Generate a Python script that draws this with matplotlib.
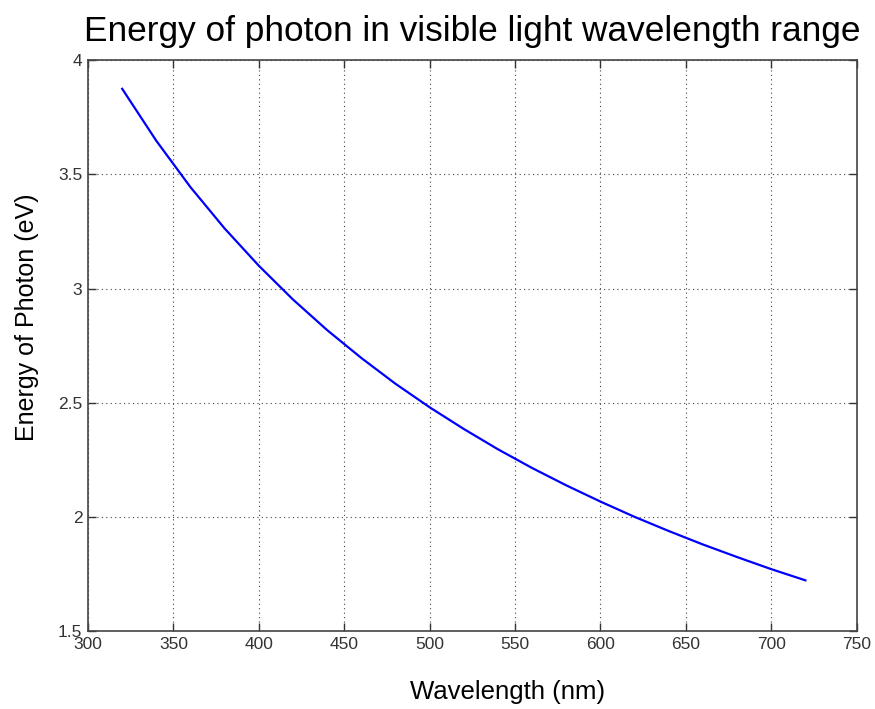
import matplotlib.pyplot as plt

plt.rcParams['font.family'] = ['Liberation Sans', 'DejaVu Sans']

# values
wavelength = [320, 340, 360, 380, 400, 420, 440, 460, 480, 500, 520,
              540, 560, 580, 600, 620, 640, 660, 680, 700, 720]
energy = [3.875, 3.647, 3.444, 3.263, 3.100, 2.952, 2.818, 2.696, 2.583, 2.480, 2.385,
          2.296, 2.214, 2.138, 2.067, 2.000, 1.938, 1.879, 1.824, 1.771, 1.722]

x_ticks = [300, 350, 400, 450, 500, 550, 600, 650, 700, 750]
y_ticks = [1.5, 2, 2.5, 3, 3.5, 4]
y_tick_labels = ['1.5', '2', '2.5', '3', '3.5', '4']

fig = plt.figure(figsize=(8.75, 7.09), dpi=100)
ax = fig.add_axes([0.1006, 0.110, 0.8784, 0.805])
ax.plot(wavelength, energy, color='#0000ff', linewidth=1.6)

ax.set_xlim(300, 750)
ax.set_ylim(1.5, 4)
ax.set_xticks(x_ticks)
ax.set_yticks(y_ticks)
ax.set_yticklabels(y_tick_labels)
ax.tick_params(direction='in', length=6, width=1, color='#333333', labelsize=12.5,
               labelcolor='#333333', top=True, right=True, pad=4)
ax.grid(True, linestyle=(0, (1, 3)), color='#444444', linewidth=0.8)
for s in ax.spines.values():
    s.set_color('#444444')
    s.set_linewidth(1.2)

ax.set_title('Energy of photon in visible light wavelength range', fontsize=25.4, pad=14)
ax.set_xlabel('Wavelength (nm)', fontsize=18.5)
ax.set_ylabel('Energy of Photon (eV)', fontsize=18)
ax.xaxis.set_label_coords(0.5455, -0.085)
ax.yaxis.set_label_coords(-0.064, 0.55)

fig.savefig('out.png', dpi=100)
